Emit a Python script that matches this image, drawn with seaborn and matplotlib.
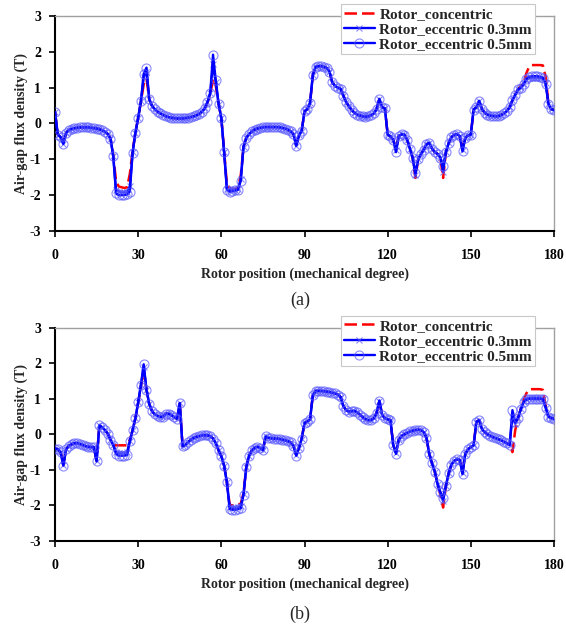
import numpy as np
import matplotlib
matplotlib.use('Agg')
import matplotlib.pyplot as plt
import seaborn as sns

# Rotor position grid (mechanical degree), one sample per degree
rotor_pos = np.arange(0, 181)

series_labels = ['Rotor_concentric', 'Rotor_eccentric 0.3mm', 'Rotor_eccentric 0.5mm']

# ---- (a) air-gap flux density (T) ----
a_concentric = [
    0.32, -0.31, -0.38, -0.55, -0.26, -0.18, -0.15, -0.13, -0.12, -0.11,
    -0.11, -0.11, -0.11, -0.12, -0.13, -0.14, -0.16, -0.19, -0.23, -0.29,
    -0.40, -0.88, -1.60, -1.76, -1.78, -1.80, -1.78, -1.40, -0.75, -0.26,
    0.16, 0.60, 1.10, 1.25, 0.67, 0.49, 0.40, 0.33, 0.28, 0.24,
    0.20, 0.18, 0.16, 0.15, 0.14, 0.14, 0.14, 0.15, 0.16, 0.18,
    0.20, 0.23, 0.27, 0.33, 0.42, 0.58, 0.80, 1.25, 1.05, 0.55,
    0.15, -0.75, -1.70, -1.80, -1.82, -1.83, -1.80, -1.45, -0.65, -0.40,
    -0.30, -0.22, -0.17, -0.14, -0.12, -0.11, -0.10, -0.10, -0.10, -0.10,
    -0.10, -0.11, -0.12, -0.14, -0.17, -0.22, -0.30, -0.60, -0.33, -0.20,
    0.34, 0.40, 0.57, 1.35, 1.58, 1.60, 1.60, 1.58, 1.55, 1.45,
    1.15, 1.05, 1.00, 0.97, 0.78, 0.60, 0.48, 0.38, 0.30, 0.25,
    0.22, 0.20, 0.19, 0.20, 0.23, 0.28, 0.40, 0.68, 0.45, 0.42,
    -0.31, -0.36, -0.45, -0.70, -0.35, -0.30, -0.31, -0.45, -0.70, -0.95,
    -1.52, -1.00, -0.85, -0.73, -0.58, -0.54, -0.70, -0.80, -0.85, -0.95,
    -1.52, -0.80, -0.55, -0.38, -0.32, -0.30, -0.35, -0.70, -0.40, -0.33,
    -0.31, 0.39, 0.45, 0.63, 0.40, 0.30, 0.25, 0.22, 0.21, 0.20,
    0.21, 0.24, 0.28, 0.35, 0.45, 0.65, 0.80, 0.95, 1.05, 1.10,
    1.40, 1.58, 1.63, 1.63, 1.63, 1.63, 1.62, 1.30, 0.55, 0.40,
    0.38,
]
a_ecc03 = [
    0.32, -0.31, -0.38, -0.56, -0.26, -0.18, -0.15, -0.13, -0.12, -0.11,
    -0.11, -0.11, -0.11, -0.12, -0.13, -0.14, -0.16, -0.19, -0.23, -0.29,
    -0.42, -0.90, -1.85, -1.90, -1.92, -1.92, -1.90, -1.75, -0.80, -0.26,
    0.16, 0.62, 1.30, 1.45, 0.67, 0.49, 0.40, 0.33, 0.28, 0.24,
    0.20, 0.18, 0.16, 0.15, 0.14, 0.14, 0.14, 0.15, 0.16, 0.18,
    0.20, 0.23, 0.27, 0.33, 0.42, 0.60, 0.84, 1.65, 1.15, 0.55,
    0.15, -0.80, -1.82, -1.86, -1.86, -1.85, -1.84, -1.55, -0.65, -0.40,
    -0.30, -0.22, -0.17, -0.14, -0.12, -0.11, -0.10, -0.10, -0.10, -0.10,
    -0.10, -0.11, -0.12, -0.14, -0.17, -0.22, -0.30, -0.62, -0.33, -0.20,
    0.34, 0.40, 0.57, 1.35, 1.58, 1.60, 1.60, 1.58, 1.55, 1.45,
    1.15, 1.05, 1.00, 0.97, 0.78, 0.60, 0.48, 0.38, 0.30, 0.25,
    0.22, 0.20, 0.19, 0.20, 0.23, 0.28, 0.40, 0.68, 0.45, 0.42,
    -0.31, -0.36, -0.45, -0.75, -0.35, -0.30, -0.31, -0.45, -0.70, -0.95,
    -1.45, -1.00, -0.85, -0.73, -0.58, -0.54, -0.70, -0.80, -0.85, -0.95,
    -1.35, -0.80, -0.55, -0.38, -0.32, -0.30, -0.35, -0.75, -0.40, -0.33,
    -0.31, 0.39, 0.45, 0.63, 0.40, 0.30, 0.25, 0.22, 0.21, 0.20,
    0.21, 0.24, 0.28, 0.35, 0.45, 0.65, 0.80, 0.95, 1.00, 1.10,
    1.22, 1.27, 1.28, 1.28, 1.28, 1.28, 1.26, 1.12, 0.53, 0.40,
    0.38,
]
a_ecc05 = [
    0.32, -0.31, -0.38, -0.57, -0.26, -0.18, -0.15, -0.13, -0.12, -0.11,
    -0.11, -0.11, -0.11, -0.12, -0.13, -0.14, -0.16, -0.19, -0.23, -0.29,
    -0.42, -0.90, -1.95, -2.00, -2.00, -2.00, -1.98, -1.90, -0.82, -0.26,
    0.16, 0.63, 1.39, 1.56, 0.67, 0.49, 0.40, 0.33, 0.28, 0.24,
    0.20, 0.18, 0.16, 0.15, 0.14, 0.14, 0.14, 0.15, 0.16, 0.18,
    0.20, 0.23, 0.27, 0.33, 0.42, 0.60, 0.86, 1.92, 1.20, 0.55,
    0.15, -0.80, -1.85, -1.90, -1.88, -1.87, -1.85, -1.60, -0.65, -0.40,
    -0.30, -0.22, -0.17, -0.14, -0.12, -0.11, -0.10, -0.10, -0.10, -0.10,
    -0.10, -0.11, -0.12, -0.14, -0.17, -0.22, -0.30, -0.62, -0.33, -0.20,
    0.34, 0.40, 0.58, 1.35, 1.58, 1.60, 1.60, 1.58, 1.55, 1.45,
    1.15, 1.05, 1.00, 0.97, 0.78, 0.60, 0.48, 0.38, 0.30, 0.25,
    0.22, 0.20, 0.19, 0.20, 0.23, 0.28, 0.40, 0.69, 0.45, 0.42,
    -0.31, -0.36, -0.45, -0.80, -0.35, -0.30, -0.31, -0.45, -0.70, -0.95,
    -1.38, -1.00, -0.85, -0.73, -0.58, -0.54, -0.70, -0.80, -0.85, -0.95,
    -1.20, -0.80, -0.55, -0.38, -0.32, -0.30, -0.35, -0.78, -0.40, -0.33,
    -0.31, 0.39, 0.45, 0.63, 0.40, 0.30, 0.25, 0.22, 0.21, 0.20,
    0.21, 0.24, 0.28, 0.35, 0.45, 0.65, 0.80, 0.95, 1.00, 1.10,
    1.25, 1.30, 1.32, 1.32, 1.32, 1.30, 1.28, 1.10, 0.55, 0.40,
    0.38,
]

# ---- (b) air-gap flux density (T) ----
b_concentric = [
    -0.40, -0.42, -0.50, -0.85, -0.42, -0.32, -0.28, -0.25, -0.25, -0.27,
    -0.30, -0.33, -0.35, -0.36, -0.36, -0.74, 0.25, 0.20, 0.12, 0.02,
    -0.15, -0.30, -0.31, -0.31, -0.31, -0.31, -0.31, -0.15, 0.12, 0.45,
    0.88, 1.35, 1.81, 1.25, 0.85, 0.65, 0.56, 0.52, 0.49, 0.50,
    0.58, 0.58, 0.54, 0.48, 0.44, 0.86, -0.33, -0.30, -0.22, -0.15,
    -0.10, -0.07, -0.05, -0.03, -0.03, -0.03, -0.05, -0.12, -0.25, -0.45,
    -0.62, -0.88, -1.35, -1.98, -2.00, -2.00, -1.98, -1.95, -1.65, -0.92,
    -0.60, -0.45, -0.38, -0.35, -0.38, -0.43, -0.06, -0.10, -0.11, -0.12,
    -0.12, -0.13, -0.15, -0.17, -0.19, -0.23, -0.32, -0.58, -0.38, -0.12,
    0.32, 0.36, 0.42, 1.10, 1.22, 1.22, 1.22, 1.21, 1.20, 1.19,
    1.17, 1.15, 1.12, 1.05, 0.80, 0.68, 0.64, 0.65, 0.66, 0.62,
    0.55, 0.48, 0.43, 0.40, 0.40, 0.45, 0.60, 0.93, 0.55, 0.45,
    0.42, 0.40, -0.30, -0.50, -0.15, -0.05, 0.00, 0.04, 0.08, 0.10,
    0.12, 0.13, 0.12, 0.06, -0.10, -0.55, -0.82, -1.05, -1.40, -1.70,
    -2.06, -1.45, -1.10, -0.85, -0.75, -0.70, -0.72, -1.05, -0.55, -0.42,
    -0.36, -0.31, 0.35, 0.40, 0.15, 0.06, 0.00, -0.04, -0.08, -0.11,
    -0.14, -0.17, -0.21, -0.25, -0.30, -0.50, 0.11, 0.45, 0.72, 0.95,
    1.15, 1.26, 1.27, 1.27, 1.27, 1.27, 1.25, 0.80, 0.50, 0.46,
    0.44,
]
b_ecc03 = [
    -0.40, -0.42, -0.50, -0.86, -0.42, -0.32, -0.28, -0.25, -0.25, -0.27,
    -0.30, -0.33, -0.35, -0.36, -0.36, -0.75, 0.25, 0.20, 0.12, 0.02,
    -0.15, -0.30, -0.50, -0.52, -0.52, -0.52, -0.50, -0.18, 0.12, 0.45,
    0.90, 1.38, 1.90, 1.25, 0.85, 0.65, 0.56, 0.52, 0.49, 0.50,
    0.58, 0.58, 0.54, 0.48, 0.44, 0.87, -0.33, -0.30, -0.22, -0.15,
    -0.10, -0.07, -0.05, -0.03, -0.03, -0.03, -0.05, -0.12, -0.25, -0.45,
    -0.62, -0.88, -1.35, -2.05, -2.07, -2.07, -2.05, -2.02, -1.68, -0.92,
    -0.60, -0.45, -0.38, -0.35, -0.38, -0.44, -0.06, -0.10, -0.11, -0.12,
    -0.12, -0.13, -0.15, -0.17, -0.19, -0.23, -0.32, -0.59, -0.38, -0.12,
    0.32, 0.36, 0.42, 1.10, 1.22, 1.22, 1.22, 1.21, 1.20, 1.19,
    1.17, 1.15, 1.12, 1.05, 0.80, 0.68, 0.64, 0.65, 0.66, 0.62,
    0.55, 0.48, 0.43, 0.40, 0.40, 0.45, 0.60, 0.94, 0.55, 0.45,
    0.42, 0.40, -0.30, -0.52, -0.15, -0.05, 0.00, 0.04, 0.08, 0.10,
    0.12, 0.13, 0.12, 0.06, -0.10, -0.55, -0.82, -1.05, -1.40, -1.65,
    -1.88, -1.45, -1.10, -0.85, -0.75, -0.70, -0.72, -1.10, -0.55, -0.42,
    -0.36, -0.31, 0.35, 0.40, 0.15, 0.06, 0.00, -0.04, -0.08, -0.11,
    -0.14, -0.17, -0.21, -0.25, -0.30, 0.50, 0.30, 0.45, 0.70, 0.90,
    1.00, 1.02, 1.02, 1.02, 1.02, 1.02, 1.00, 0.75, 0.50, 0.46,
    0.44,
]
b_ecc05 = [
    -0.40, -0.42, -0.50, -0.88, -0.42, -0.32, -0.28, -0.25, -0.25, -0.27,
    -0.30, -0.33, -0.35, -0.36, -0.36, -0.76, 0.25, 0.20, 0.12, 0.02,
    -0.15, -0.30, -0.55, -0.60, -0.60, -0.60, -0.58, -0.20, 0.12, 0.45,
    0.90, 1.40, 1.97, 1.25, 0.85, 0.65, 0.56, 0.52, 0.49, 0.50,
    0.58, 0.58, 0.54, 0.48, 0.44, 0.88, -0.33, -0.30, -0.22, -0.15,
    -0.10, -0.07, -0.05, -0.03, -0.03, -0.03, -0.05, -0.12, -0.25, -0.45,
    -0.62, -0.88, -1.35, -2.10, -2.12, -2.12, -2.10, -2.08, -1.70, -0.92,
    -0.60, -0.45, -0.38, -0.35, -0.38, -0.45, -0.06, -0.10, -0.11, -0.12,
    -0.12, -0.13, -0.15, -0.17, -0.19, -0.23, -0.32, -0.60, -0.38, -0.12,
    0.32, 0.36, 0.42, 1.10, 1.22, 1.22, 1.22, 1.21, 1.20, 1.19,
    1.17, 1.15, 1.12, 1.05, 0.80, 0.68, 0.64, 0.65, 0.66, 0.62,
    0.55, 0.48, 0.43, 0.40, 0.40, 0.45, 0.60, 0.95, 0.55, 0.45,
    0.42, 0.40, -0.30, -0.55, -0.15, -0.05, 0.00, 0.04, 0.08, 0.10,
    0.12, 0.13, 0.12, 0.06, -0.10, -0.55, -0.82, -1.05, -1.40, -1.62,
    -1.78, -1.45, -1.10, -0.85, -0.75, -0.70, -0.72, -1.12, -0.55, -0.42,
    -0.36, -0.31, 0.35, 0.40, 0.15, 0.06, 0.00, -0.04, -0.08, -0.11,
    -0.14, -0.17, -0.21, -0.25, -0.30, 0.68, 0.35, 0.45, 0.70, 0.90,
    0.98, 1.00, 1.00, 1.00, 1.00, 1.00, 0.98, 0.75, 0.50, 0.46,
    0.44,
]

x_ticks = [0, 30, 60, 90, 120, 150, 180]
y_ticks = [-3, -2, -1, 0, 1, 2, 3]

sns.set_style('ticks')
plt.rcParams['font.family'] = ['Liberation Serif', 'DejaVu Serif']

fig = plt.figure(figsize=(5.66, 6.27), dpi=100)
ax_a = fig.add_axes([0.0972, 0.6316, 0.8816, 0.3429])
ax_b = fig.add_axes([0.0972, 0.1372, 0.8816, 0.3402])

marker_edge = (0.35, 0.35, 1.0, 0.7)


def draw_panel(ax, conc, ecc03, ecc05):
    sns.lineplot(x=rotor_pos, y=conc, ax=ax, color='red', linestyle=(0, (5, 2)),
                 linewidth=1.8, label=series_labels[0], zorder=2)
    sns.lineplot(x=rotor_pos, y=ecc03, ax=ax, color='blue', linewidth=1.7,
                 marker='x', markersize=5, markeredgecolor=marker_edge,
                 markeredgewidth=0.8, label=series_labels[1], zorder=3)
    sns.lineplot(x=rotor_pos, y=ecc05, ax=ax, color='blue', linewidth=1.7,
                 marker='o', markersize=6.5, markerfacecolor='none',
                 markeredgecolor=marker_edge, markeredgewidth=0.8,
                 label=series_labels[2], zorder=4)

    ax.set_xlim(0, 180)
    ax.set_ylim(-3, 3)
    ax.set_xticks(x_ticks)
    ax.set_yticks(y_ticks)
    ax.set_xticklabels([str(t) for t in x_ticks], fontweight='bold', fontsize=10)
    ax.set_yticklabels([str(t) for t in y_ticks], fontweight='bold', fontsize=10)
    ax.tick_params(axis='x', direction='out', length=4, width=1.2, pad=9, colors='black')
    ax.tick_params(axis='y', direction='out', length=4, width=1.2, pad=6, colors='black')
    ax.set_xlabel('Rotor position (mechanical degree)', fontweight='bold', fontsize=10, labelpad=4)
    ax.set_ylabel('Air-gap flux density (T)', fontweight='bold', fontsize=10, labelpad=1)

    for side in ['left', 'bottom']:
        ax.spines[side].set_color('black')
        ax.spines[side].set_linewidth(1.5)
    for side in ['top', 'right']:
        ax.spines[side].set_color('#a0a0a0')
        ax.spines[side].set_linewidth(1.0)

    leg = ax.legend(loc='upper right', bbox_to_anchor=(0.962, 1.055),
                    prop={'family': 'Liberation Serif', 'weight': 'bold', 'size': 11},
                    frameon=True, fancybox=False, framealpha=1, edgecolor='#c8c8c8',
                    handlelength=2.0, handletextpad=0.3, labelspacing=0.1,
                    borderpad=0.2, borderaxespad=0.0)
    leg.get_frame().set_linewidth(0.8)
    leg.set_zorder(10)


draw_panel(ax_a, a_concentric, a_ecc03, a_ecc05)
draw_panel(ax_b, b_concentric, b_ecc03, b_ecc05)

fig.text(0.53, 0.521, '(a)', ha='center', va='center', fontsize=13)
fig.text(0.53, 0.020, '(b)', ha='center', va='center', fontsize=13)

fig.savefig('out.png', dpi=100)
